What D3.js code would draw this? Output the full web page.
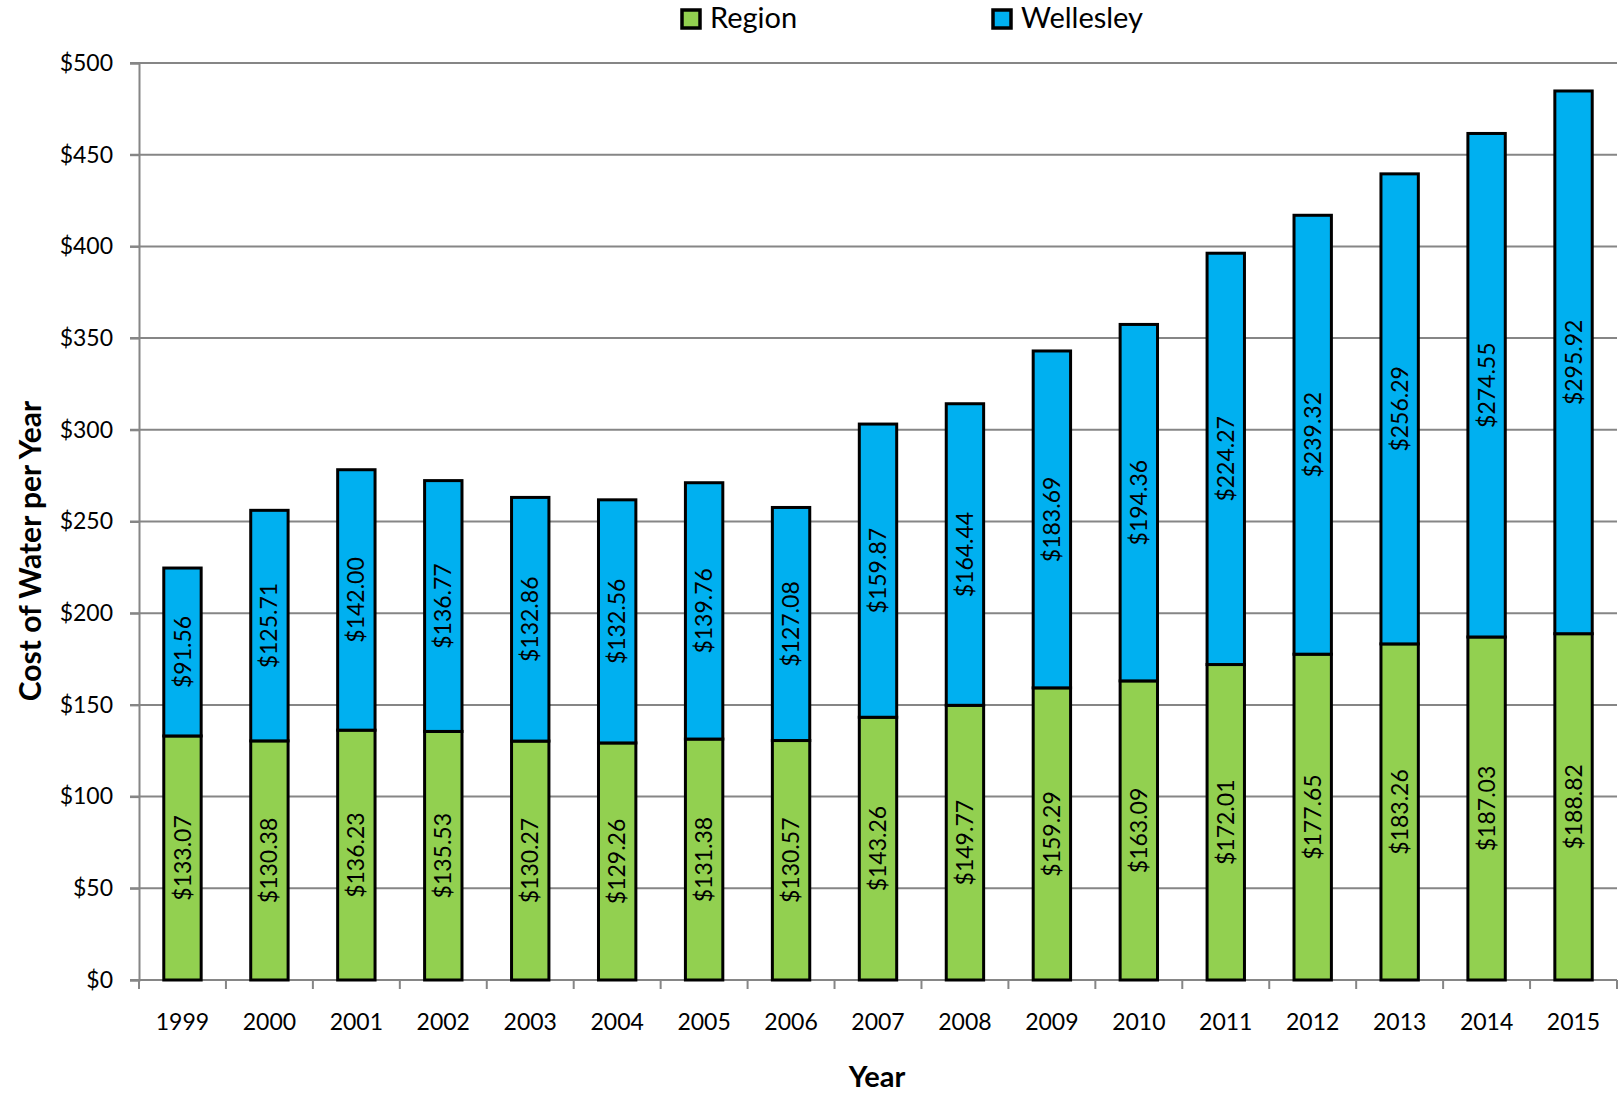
<!DOCTYPE html>
<html lang="en">
<head>
    <meta charset="UTF-8">
    <title>Cost of Water per Year</title>
    <style>
        body { margin: 0; background: #fff; }
        svg { display: block; font-family: Lato, "Noto Sans", sans-serif; }
    </style>
    <script src="https://d3js.org/d3.v7.min.js"></script>
</head>
<body>
    <div id="svg"></div>
    <script>
        const years = ["1999", "2000", "2001", "2002", "2003", "2004", "2005", "2006", "2007", "2008", "2009", "2010", "2011", "2012", "2013", "2014", "2015"]
        const region = [133.07, 130.38, 136.23, 135.53, 130.27, 129.26, 131.38, 130.57, 143.26, 149.77, 159.29, 163.09, 172.01, 177.65, 183.26, 187.03, 188.82]
        const wellesley = [91.56, 125.71, 142.00, 136.77, 132.86, 132.56, 139.76, 127.08, 159.87, 164.44, 183.69, 194.36, 224.27, 239.32, 256.29, 274.55, 295.92]
        const yTicks = [0, 50, 100, 150, 200, 250, 300, 350, 400, 450, 500]
        const seriesNames = ["Region", "Wellesley"]
        const colors = { Region: "#92D050", Wellesley: "#00B0F0" }

        const boxWidth = 1621, boxHeight = 1095
        const margin = { top: 63, right: 4, bottom: 115, left: 139 }
        const innerWidth = boxWidth - margin.left - margin.right
        const innerHeight = boxHeight - margin.top - margin.bottom

        const svg = d3.select("#svg").append("svg")
            .attr("width", boxWidth).attr("height", boxHeight)
        const g = svg.append("g").attr("transform", `translate(${margin.left}, ${margin.top})`)

        const table = years.map((y, i) => ({ year: y, Region: region[i], Wellesley: wellesley[i] }))
        const stacked = d3.stack().keys(seriesNames)(table)

        const xScale = d3.scaleBand().domain(years).range([0, innerWidth]).paddingInner(0.57).paddingOuter(0.285)
        const xStep = innerWidth / years.length
        const yScale = d3.scaleLinear().domain([0, 500]).range([innerHeight, 0])

        // gridlines
        g.append("g").selectAll("line").data(yTicks).enter().append("line")
            .attr("x1", -9).attr("x2", innerWidth)
            .attr("y1", d => yScale(d)).attr("y2", d => yScale(d))
            .attr("stroke", "#868686").attr("stroke-width", 2)

        // y axis
        const yAxis = d3.axisLeft(yScale).tickValues(yTicks).tickFormat(d => "$" + d).tickSize(9).tickPadding(17)
        const yG = g.append("g").call(yAxis)
        yG.select(".domain").attr("stroke", "#868686").attr("stroke-width", 2)
        yG.selectAll(".tick line").attr("stroke", "#868686").attr("stroke-width", 2)
        yG.selectAll("text").attr("font-size", 23).attr("fill", "#000").attr("font-family", "Lato, sans-serif")

        // x axis
        const xG = g.append("g").attr("transform", `translate(0, ${innerHeight})`)
        xG.append("line").attr("x1", 0).attr("x2", innerWidth).attr("stroke", "#868686").attr("stroke-width", 2)
        xG.selectAll(".xt").data(d3.range(years.length + 1)).enter().append("line")
            .attr("x1", i => i * xStep).attr("x2", i => i * xStep)
            .attr("y1", 0).attr("y2", 9)
            .attr("stroke", "#868686").attr("stroke-width", 2)
        xG.selectAll(".xl").data(years).enter().append("text")
            .attr("x", d => xScale(d) + xScale.bandwidth() / 2)
            .attr("y", 50)
            .attr("text-anchor", "middle")
            .attr("font-size", 23)
            .text(d => d)

        // bars
        const layers = g.selectAll(".layer").data(stacked).enter().append("g")
            .attr("fill", d => colors[d.key])
        layers.selectAll("rect").data(d => d).enter().append("rect")
            .attr("x", d => xScale(d.data.year))
            .attr("y", d => yScale(d[1]))
            .attr("width", xScale.bandwidth())
            .attr("height", d => yScale(d[0]) - yScale(d[1]))
            .attr("stroke", "#000").attr("stroke-width", 3)

        // value labels
        layers.each(function (layer) {
            d3.select(this).selectAll("text").data(layer).enter().append("text")
                .attr("transform", d => `translate(${xScale(d.data.year) + xScale.bandwidth() / 2}, ${yScale((d[0] + d[1]) / 2)}) rotate(-90)`)
                .attr("text-anchor", "middle")
                .attr("dy", "0.35em")
                .attr("font-size", 23)
                .attr("fill", "#000")
                .text(d => "$" + (d[1] - d[0]).toFixed(2))
        })

        // axis titles
        svg.append("text")
            .attr("transform", `translate(30, 551) rotate(-90)`)
            .attr("text-anchor", "middle").attr("dy", "0.35em")
            .attr("font-size", 30).attr("font-weight", "bold")
            .text("Cost of Water per Year")
        svg.append("text")
            .attr("x", 877).attr("y", 1087)
            .attr("text-anchor", "middle")
            .attr("font-size", 29).attr("font-weight", "bold")
            .text("Year")

        // legend
        const legendX = [682, 993]
        const legend = svg.selectAll(".legend").data(seriesNames).enter().append("g")
            .attr("transform", (d, i) => `translate(${legendX[i]}, 10)`)
        legend.append("rect")
            .attr("width", 18).attr("height", 18)
            .attr("fill", d => colors[d]).attr("stroke", "#000").attr("stroke-width", 3.5)
        legend.append("text")
            .attr("x", 28).attr("y", 18)
            .attr("font-size", 29)
            .text(d => d)
    </script>
</body>
</html>
